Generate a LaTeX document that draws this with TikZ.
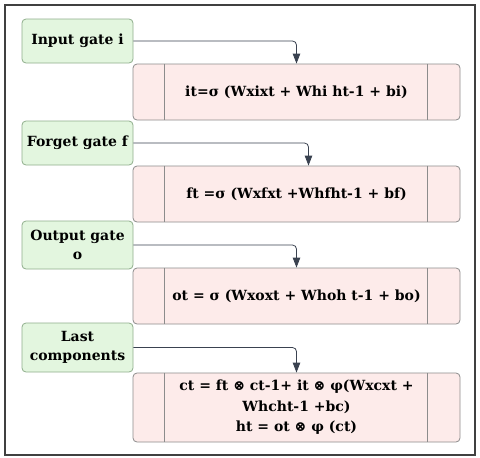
\documentclass[tikz,border=0pt]{standalone}
\usepackage{fontspec}
\setmainfont{DejaVu Serif}
\usetikzlibrary{arrows.meta}

\definecolor{gatefill}{HTML}{E3F6DF}
\definecolor{gateline}{HTML}{8FAE8C}
\definecolor{eqfill}{HTML}{FDEBEA}
\definecolor{eqline}{HTML}{8C8C8C}
\definecolor{linkcol}{HTML}{3A4250}

\begin{document}
\begin{tikzpicture}[x=1pt, y=-1pt,
  gate/.style={draw=gateline, fill=gatefill, line width=0.8pt, rounded corners=4pt,
    minimum width=111pt, inner sep=0pt, align=center, font=\bfseries\fontsize{14}{19}\selectfont},
  eqbox/.style={draw=eqline, fill=eqfill, line width=0.8pt, rounded corners=4pt,
    minimum width=327pt, inner sep=0pt, align=center, font=\bfseries\fontsize{14}{20.5}\selectfont},
  link/.style={linkcol, thick, rounded corners=4pt, -{Triangle[length=10pt, width=7.5pt]}}]

  % Picture size and outer frame
  \useasboundingbox (0,0) rectangle (480,458);
  \draw[line width=1.8pt, black!75] (5,5) rectangle (475,455);

  % Gate boxes (green)
  \node[gate, minimum height=44pt] (ingate) at (77.5,41) {Input gate i};
  \node[gate, minimum height=44pt] (fgate) at (77.5,143) {Forget gate f};
  \node[gate, minimum height=48pt] (outgate) at (77.5,245) {Output gate\\o};
  \node[gate, minimum height=49pt] (lastgate) at (77.5,347.5) {Last\\components};

  % Equation boxes (pink)
  \node[eqbox, minimum height=56pt] (ieq) at (296.5,92) {it=σ (Wxixt + Whi ht-1 + bi)};
  \node[eqbox, minimum height=56pt] (feq) at (296.5,194) {ft =σ (Wxfxt +Whfht-1 + bf)};
  \node[eqbox, minimum height=56pt] (oeq) at (296.5,296) {ot = σ (Wxoxt + Whoh t-1 + bo)};
  \node[eqbox, minimum height=69pt] (ceq) at (296.5,407.5)
    {ct = ft ⊗ ct-1+ it ⊗ φ(Wxcxt +\\Whcht-1 +bc)\\ht = ot ⊗ φ (ct)};

  % Side bars inside the equation boxes
  \foreach \n in {ieq, feq, oeq, ceq} {
    \draw[eqline, line width=0.8pt] ([xshift=32pt]\n.north west) -- ([xshift=32pt]\n.south west);
    \draw[eqline, line width=0.8pt] ([xshift=-33pt]\n.north east) -- ([xshift=-33pt]\n.south east);
  }

  % Arrows from gates to equations
  \draw[link] (ingate.east) -| (ieq.north);
  \draw[link] (fgate.east) -| ([xshift=12pt]feq.north);
  \draw[link] (outgate.east) -| (oeq.north);
  \draw[link] (lastgate.east) -| (ceq.north);

\end{tikzpicture}
\end{document}
